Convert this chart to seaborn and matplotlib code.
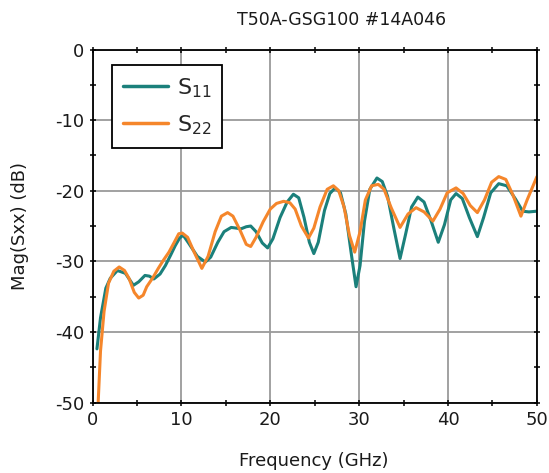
import numpy as np
import pandas as pd
import matplotlib
matplotlib.use("Agg")
import matplotlib.pyplot as plt
import seaborn as sns
from matplotlib.ticker import MultipleLocator

# S11 (teal)
s11_freq = [0.5, 0.9, 1.5, 2.0, 2.8, 3.7, 4.6, 5.2, 5.9, 6.4, 6.9, 7.6, 8.2, 8.8, 9.3,
            9.8, 10.2, 10.8, 11.8, 12.7, 13.3, 14.1, 14.8, 15.6, 16.2, 16.7, 17.3, 17.8,
            18.4, 19.1, 19.7, 20.3, 21.1, 21.9, 22.6, 23.2, 23.8, 24.4, 24.9, 25.4, 26.1,
            26.7, 27.3, 27.9, 28.5, 29.1, 29.65, 30.1, 30.6, 31.2, 32.0, 32.6, 33.2, 33.9,
            34.6, 35.2, 35.9, 36.6, 37.3, 38.1, 38.9, 39.6, 40.3, 40.9, 41.6, 42.4, 43.3,
            44.0, 44.8, 45.7, 46.6, 47.6, 48.4, 49.1, 50.0]
s11_db = [-42.4, -38.0, -33.8, -32.4, -31.3, -31.7, -33.4, -32.9, -32.0, -32.1, -32.5,
          -31.8, -30.6, -29.1, -27.8, -26.7, -26.3, -27.4, -29.3, -30.1, -29.4, -27.3,
          -25.8, -25.2, -25.3, -25.4, -25.1, -25.0, -25.8, -27.4, -28.1, -26.8, -23.8,
          -21.6, -20.5, -21.0, -23.8, -27.3, -28.9, -27.3, -22.8, -20.4, -19.6, -20.3,
          -23.3, -28.8, -33.6, -30.6, -24.3, -19.8, -18.2, -18.7, -20.8, -25.3, -29.6,
          -26.3, -22.3, -20.9, -21.6, -24.3, -27.3, -24.8, -21.3, -20.4, -21.1, -23.8,
          -26.5, -23.8, -20.3, -19.0, -19.3, -21.2, -22.9, -23.0, -22.9]

# S22 (orange)
s22_freq = [0.6, 0.9, 1.3, 1.8, 2.4, 3.0, 3.6, 4.1, 4.7, 5.2, 5.7, 6.1, 6.8, 7.4, 8.0,
            8.6, 9.2, 9.7, 10.1, 10.7, 11.4, 12.3, 13.0, 13.8, 14.5, 15.2, 15.8, 16.6,
            17.3, 17.8, 18.4, 19.2, 20.0, 20.7, 21.5, 22.2, 22.8, 23.5, 24.3, 24.9, 25.6,
            26.4, 27.1, 27.7, 28.3, 28.9, 29.5, 30.1, 30.7, 31.4, 32.15, 32.8, 33.6, 34.6,
            35.5, 36.4, 37.3, 38.3, 39.1, 39.9, 40.9, 41.7, 42.5, 43.3, 44.1, 44.9, 45.7,
            46.5, 47.3, 48.2, 48.9, 50.0]
s22_db = [-51.0, -42.7, -37.1, -33.1, -31.4, -30.8, -31.3, -32.4, -34.4, -35.2, -34.8,
          -33.6, -32.3, -31.0, -29.8, -28.7, -27.3, -26.1, -26.0, -26.6, -28.6, -31.0,
          -29.3, -25.8, -23.6, -23.1, -23.6, -25.6, -27.6, -27.9, -26.6, -24.4, -22.6,
          -21.8, -21.5, -21.7, -22.6, -25.0, -26.7, -25.3, -22.3, -19.8, -19.3, -20.0,
          -22.3, -26.3, -28.7, -25.8, -21.3, -19.3, -19.1, -19.8, -22.4, -25.2, -23.3,
          -22.4, -23.0, -24.3, -22.6, -20.3, -19.6, -20.4, -22.1, -23.1, -21.3, -18.8,
          -18.0, -18.4, -20.6, -23.6, -21.3, -18.0]

title = "T50A-GSG100 #14A046"
xlabel = "Frequency (GHz)"
ylabel = "Mag(Sxx) (dB)"
labels = ["S$_{11}$", "S$_{22}$"]
colors = ["#1b807b", "#f5862b"]

sns.set_theme(style="white")
plt.rcParams["font.family"] = ["DejaVu Sans"]
plt.rcParams["mathtext.default"] = "regular"
plt.rcParams["axes.unicode_minus"] = False

df = pd.concat([
    pd.DataFrame({"Frequency": s11_freq, "Mag": s11_db, "Param": labels[0]}),
    pd.DataFrame({"Frequency": s22_freq, "Mag": s22_db, "Param": labels[1]}),
])

fig = plt.figure(figsize=(5.49, 4.73), dpi=100)
ax = fig.add_axes([0.1685, 0.149, 0.978 - 0.1685, 0.8953 - 0.149])

sns.lineplot(data=df, x="Frequency", y="Mag", hue="Param", palette=colors,
             linewidth=2.2, ax=ax, sort=False, estimator=None)

ax.set_xlim(0, 50)
ax.set_ylim(-50, 0)
ax.xaxis.set_major_locator(MultipleLocator(10))
ax.xaxis.set_minor_locator(MultipleLocator(5))
ax.yaxis.set_major_locator(MultipleLocator(10))
ax.yaxis.set_minor_locator(MultipleLocator(5))
ax.grid(True, which="major", color="#9a9a9a", linewidth=1.3)
ax.set_axisbelow(True)
for s in ax.spines.values():
    s.set_visible(True)
    s.set_color("black")
    s.set_linewidth(1.3)
ax.tick_params(which="both", direction="inout", top=True, right=True,
               bottom=True, left=True, color="black", labelsize=13,
               labelcolor="#1a1a1a")
ax.tick_params(which="major", length=5, width=1.1)
ax.tick_params(which="minor", length=4, width=1.1)
ax.set_xlabel("")
ax.set_ylabel("")

fig.text(342 / 549, 1 - 20 / 473, title, ha="center", va="center", fontsize=12.5,
         color="#1a1a1a")
fig.text(314 / 549, 1 - 461 / 473, xlabel, ha="center", va="center", fontsize=13,
         color="#1a1a1a")
fig.text(20 / 549, 1 - 226 / 473, ylabel, ha="center", va="center", rotation=90,
         fontsize=13, color="#1a1a1a")

handles, _ = ax.get_legend_handles_labels()
leg = ax.legend(handles=handles, labels=labels, loc="upper left",
                bbox_to_anchor=(0.044, 0.956), borderaxespad=0, fontsize=16,
                handlelength=2.0, frameon=True, fancybox=False,
                edgecolor="black", framealpha=1, labelspacing=0.6,
                borderpad=0.5, handletextpad=0.4)
leg.get_frame().set_linewidth(1.3)
for line in leg.get_lines():
    line.set_linewidth(2.5)

fig.savefig("out.png", dpi=100)
